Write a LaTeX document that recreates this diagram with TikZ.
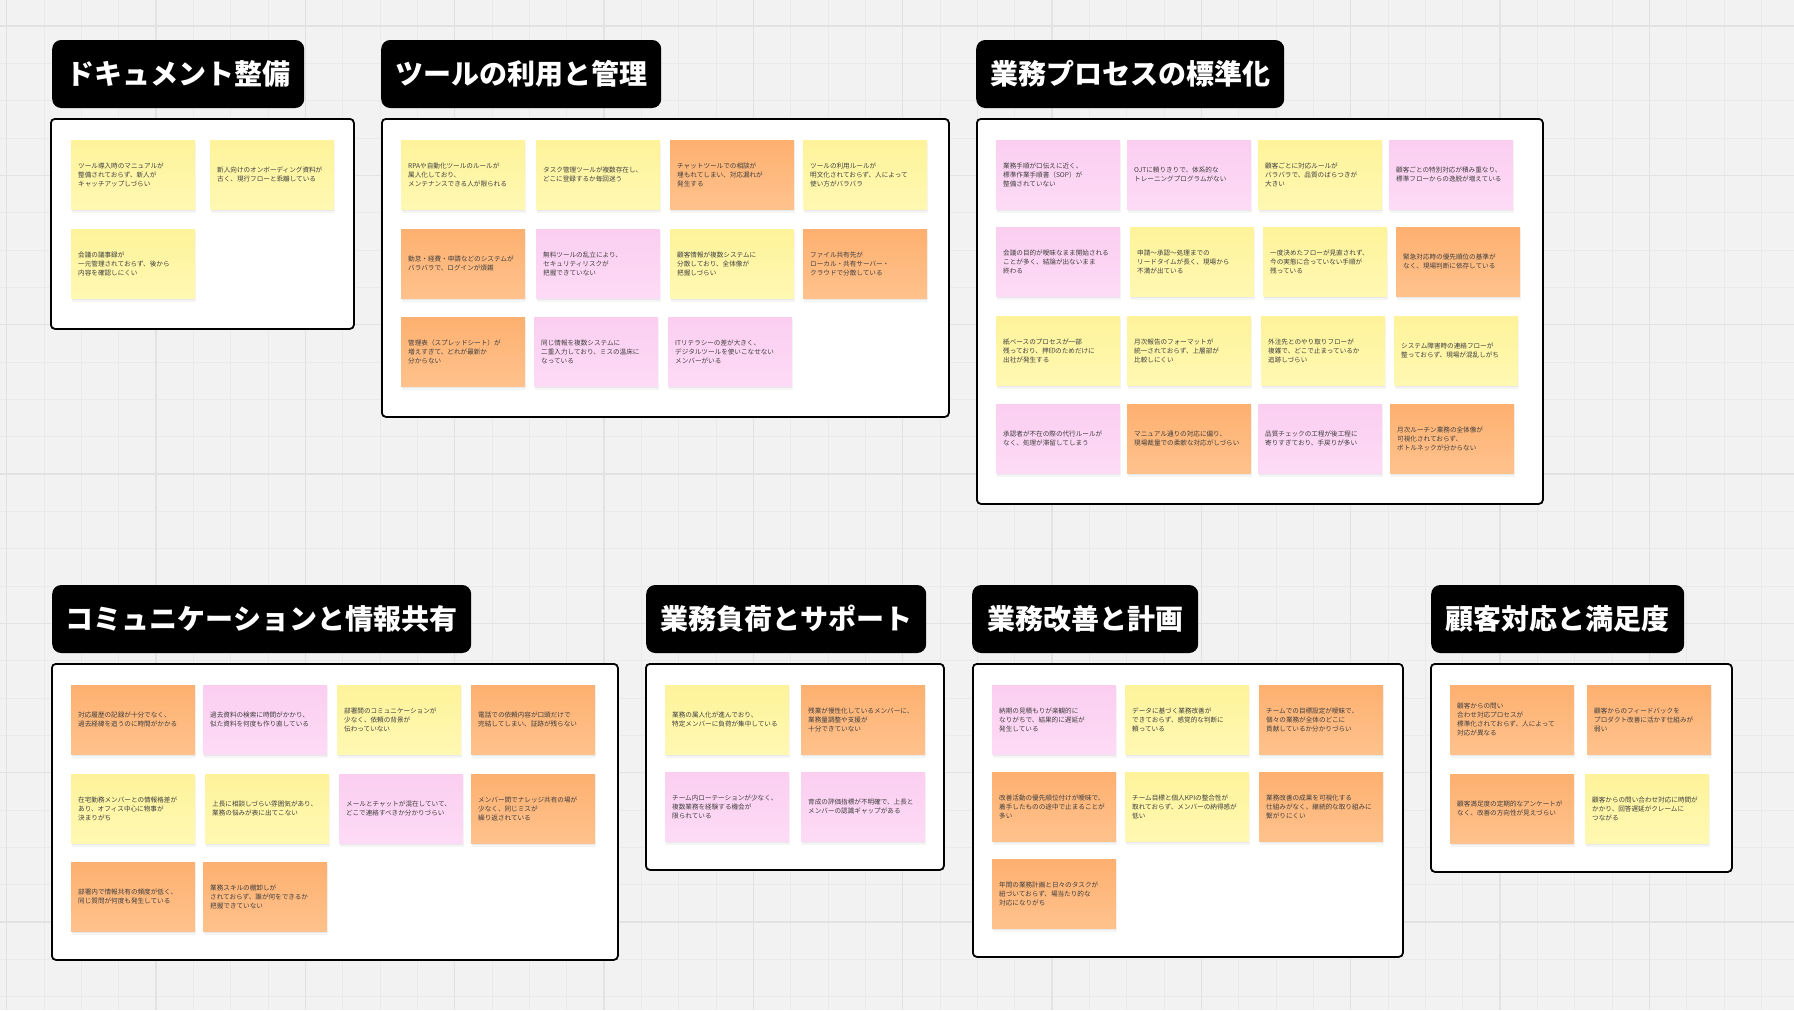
\documentclass[tikz,border=0pt]{standalone}
\usepackage{fontspec}
\newfontfamily\cjk{Noto Sans CJK JP}
\definecolor{bgc}{HTML}{F2F2F2}
\definecolor{gridminor}{HTML}{EAEAEA}
\definecolor{gridmajor}{HTML}{E2E2E2}
\definecolor{ytop}{HTML}{FEF39A}
\definecolor{ybot}{HTML}{FFF8B2}
\definecolor{otop}{HTML}{FDB070}
\definecolor{obot}{HTML}{FFC28C}
\definecolor{ptop}{HTML}{FBCEF0}
\definecolor{pbot}{HTML}{FDDBF6}
\definecolor{notetext}{HTML}{3F3F3F}
\tikzset{
  stk/.style={anchor=north west, minimum width=124pt, minimum height=69pt,
    text width=110pt, inner xsep=7pt, inner ysep=0pt, align=left,
    font=\cjk\fontsize{6.6}{9}\selectfont, text=notetext},
  sy/.style={stk, top color=ytop, bottom color=ybot},
  so/.style={stk, top color=otop, bottom color=obot},
  sp/.style={stk, top color=ptop, bottom color=pbot},
  panel/.style={draw=black, line width=1.8pt, fill=white, rounded corners=4pt,
    anchor=north west, inner sep=0pt},
  hdr/.style={fill=black, rounded corners=9pt, text=white,
    font=\cjk\bfseries\fontsize{28}{28}\selectfont, anchor=west,
    minimum height=68pt, inner sep=0pt},
}
\newcommand\stickyshadow[2]{%
  \fill[black,opacity=0.04] ({#1+0.5},{#2+2.5}) rectangle ({#1+125},{#2+73});
  \fill[black,opacity=0.05] ({#1+1},{#2+1.5}) rectangle ({#1+124},{#2+71});}
\newcommand\stnote[5]{\stickyshadow{#2}{#3}\node[#4] (#1) at (#2,#3) {#5};}
\newcommand\hdrtext[1]{\raisebox{2.5pt}{#1}}
\begin{document}
\begin{tikzpicture}[x=1pt,y=-1pt]
\useasboundingbox (0,0) rectangle (1794,1010);
\fill[bgc] (0,0) rectangle (1794,1010);
% grid
\foreach \i in {0,...,48} \draw[gridminor, line width=0.8pt] ({6.7+37.333*\i},0) -- ({6.7+37.333*\i},1010);
\foreach \j in {0,...,28} \draw[gridminor, line width=0.8pt] (0,{-11.3+37.333*\j}) -- (1794,{-11.3+37.333*\j});
\foreach \i in {0,...,12} \draw[gridmajor, line width=1.5pt] ({6.7+149.333*\i},0) -- ({6.7+149.333*\i},1010);
\foreach \j in {0,...,6} \draw[gridmajor, line width=1.5pt] (0,{26+149.333*\j}) -- (1794,{26+149.333*\j});

% headers
\node[hdr, minimum width=252pt] (hdoc) at (52,74) {\hdrtext{ドキュメント整備}};
\node[hdr, minimum width=280pt] (htool) at (381,74) {\hdrtext{ツールの利用と管理}};
\node[hdr, minimum width=308pt] (hproc) at (976,74) {\hdrtext{業務プロセスの標準化}};
\node[hdr, minimum width=419pt] (hcomm) at (52,619) {\hdrtext{コミュニケーションと情報共有}};
\node[hdr, minimum width=280pt] (hload) at (646,619) {\hdrtext{業務負荷とサポート}};
\node[hdr, minimum width=226pt] (himp) at (972,619) {\hdrtext{業務改善と計画}};
\node[hdr, minimum width=253pt] (hcust) at (1431,619) {\hdrtext{顧客対応と満足度}};

% panels
\node[panel, minimum width=303pt, minimum height=210pt] (pdoc) at (50,118) {};
\node[panel, minimum width=567pt, minimum height=298pt] (ptool) at (381,118) {};
\node[panel, minimum width=566pt, minimum height=385pt] (pproc) at (976,118) {};
\node[panel, minimum width=566pt, minimum height=296pt] (pcomm) at (51,663) {};
\node[panel, minimum width=298pt, minimum height=206pt] (pload) at (645,663) {};
\node[panel, minimum width=430pt, minimum height=293pt] (pimp) at (972,663) {};
\node[panel, minimum width=301pt, minimum height=208pt] (pcust) at (1430,663) {};

% document
\stnote{d1}{71}{140}{sy}{ツール導入時のマニュアルが\\整備されておらず、新人が\\キャッチアップしづらい}
\stnote{d2}{210}{140}{sy}{新人向けのオンボーディング資料が\\古く、現行フローと乖離している}
\stnote{d3}{71}{229}{sy}{会議の議事録が\\一元管理されておらず、後から\\内容を確認しにくい}

% tools
\stnote{t1}{401}{140}{sy}{RPAや自動化ツールのルールが\\属人化しており、\\メンテナンスできる人が限られる}
\stnote{t2}{536}{140}{sy}{タスク管理ツールが複数存在し、\\どこに登録するか毎回迷う}
\stnote{t3}{670}{140}{so}{チャットツールでの相談が\\埋もれてしまい、対応漏れが\\発生する}
\stnote{t4}{803}{140}{sy}{ツールの利用ルールが\\明文化されておらず、人によって\\使い方がバラバラ}
\stnote{t5}{401}{229}{so}{勤怠・経費・申請などのシステムが\\バラバラで、ログインが煩雑}
\stnote{t6}{536}{229}{sp}{無料ツールの乱立により、\\セキュリティリスクが\\把握できていない}
\stnote{t7}{670}{229}{sy}{顧客情報が複数システムに\\分散しており、全体像が\\把握しづらい}
\stnote{t8}{803}{229}{so}{ファイル共有先が\\ローカル・共有サーバー・\\クラウドで分散している}
\stnote{t9}{401}{317}{so}{管理表（スプレッドシート）が\\増えすぎて、どれが最新か\\分からない}
\stnote{t10}{534}{317}{sp}{同じ情報を複数システムに\\二重入力しており、ミスの温床に\\なっている}
\stnote{t11}{668}{317}{sp}{ITリテラシーの差が大きく、\\デジタルツールを使いこなせない\\メンバーがいる}

% process
\stnote{p1}{996}{140}{sp}{業務手順が口伝えに近く、\\標準作業手順書（SOP）が\\整備されていない}
\stnote{p2}{1127}{140}{sp}{OJTに頼りきりで、体系的な\\トレーニングプログラムがない}
\stnote{p3}{1258}{140}{sy}{顧客ごとに対応ルールが\\バラバラで、品質のばらつきが\\大きい}
\stnote{p4}{1389}{140}{sp}{顧客ごとの特別対応が積み重なり、\\標準フローからの逸脱が増えている}
\stnote{p5}{996}{227}{sp}{会議の目的が曖昧なまま開始される\\ことが多く、結論が出ないまま\\終わる}
\stnote{p6}{1130}{227}{sy}{申請〜承認〜処理までの\\リードタイムが長く、現場から\\不満が出ている}
\stnote{p7}{1263}{227}{sy}{一度決めたフローが見直されず、\\今の実態に合っていない手順が\\残っている}
\stnote{p8}{1396}{227}{so}{緊急対応時の優先順位の基準が\\なく、現場判断に依存している}
\stnote{p9}{996}{316}{sy}{紙ベースのプロセスが一部\\残っており、押印のためだけに\\出社が発生する}
\stnote{p10}{1127}{316}{sy}{月次報告のフォーマットが\\統一されておらず、上層部が\\比較しにくい}
\stnote{p11}{1261}{316}{sy}{外注先とのやり取りフローが\\複雑で、どこで止まっているか\\追跡しづらい}
\stnote{p12}{1394}{316}{sy}{システム障害時の連絡フローが\\整っておらず、現場が混乱しがち}
\stnote{p13}{996}{404}{sp}{承認者が不在の際の代行ルールが\\なく、処理が滞留してしまう}
\stnote{p14}{1127}{404}{so}{マニュアル通りの対応に偏り、\\現場裁量での柔軟な対応がしづらい}
\stnote{p15}{1258}{404}{sp}{品質チェックの工程が後工程に\\寄りすぎており、手戻りが多い}
\stnote{p16}{1390}{404}{so}{月次ルーチン業務の全体像が\\可視化されておらず、\\ボトルネックが分からない}

% communication
\stnote{c1}{71}{685}{so}{対応履歴の記録が十分でなく、\\過去経緯を追うのに時間がかかる}
\stnote{c2}{203}{685}{sp}{過去資料の検索に時間がかかり、\\似た資料を何度も作り直している}
\stnote{c3}{337}{685}{sy}{部署間のコミュニケーションが\\少なく、依頼の背景が\\伝わっていない}
\stnote{c4}{471}{685}{so}{電話での依頼内容が口頭だけで\\完結してしまい、証跡が残らない}
\stnote{c5}{71}{774}{sy}{在宅勤務メンバーとの情報格差が\\あり、オフィス中心に物事が\\決まりがち}
\stnote{c6}{205}{774}{sy}{上長に相談しづらい雰囲気があり、\\業務の悩みが表に出てこない}
\stnote{c7}{339}{774}{sp}{メールとチャットが混在していて、\\どこで連絡すべきか分かりづらい}
\stnote{c8}{471}{774}{so}{メンバー間でナレッジ共有の場が\\少なく、同じミスが\\繰り返されている}
\stnote{c9}{71}{862}{so}{部署内で情報共有の頻度が低く、\\同じ質問が何度も発生している}
\stnote{c10}{203}{862}{so}{業務スキルの棚卸しが\\されておらず、誰が何をできるか\\把握できていない}

% load
\stnote{l1}{665}{685}{sy}{業務の属人化が進んでおり、\\特定メンバーに負荷が集中している}
\stnote{l2}{801}{685}{so}{残業が慢性化しているメンバーに、\\業務量調整や支援が\\十分できていない}
\stnote{l3}{665}{772}{sp}{チーム内ローテーションが少なく、\\複数業務を経験する機会が\\限られている}
\stnote{l4}{801}{772}{sp}{育成の評価指標が不明確で、上長と\\メンバーの認識ギャップがある}

% improvement
\stnote{i1}{992}{685}{sp}{納期の見積もりが楽観的に\\なりがちで、結果的に遅延が\\発生している}
\stnote{i2}{1125}{685}{sy}{データに基づく業務改善が\\できておらず、感覚的な判断に\\頼っている}
\stnote{i3}{1259}{685}{so}{チームでの目標設定が曖昧で、\\個々の業務が全体のどこに\\貢献しているか分かりづらい}
\stnote{i4}{992}{772}{so}{改善活動の優先順位付けが曖昧で、\\着手したものの途中で止まることが\\多い}
\stnote{i5}{1125}{772}{sy}{チーム目標と個人KPIの整合性が\\取れておらず、メンバーの納得感が\\低い}
\stnote{i6}{1259}{772}{so}{業務改善の成果を可視化する\\仕組みがなく、継続的な取り組みに\\繋がりにくい}
\stnote{i7}{992}{859}{so}{年間の業務計画と日々のタスクが\\紐づいておらず、場当たり的な\\対応になりがち}

% customer
\stnote{k1}{1450}{685}{so}{顧客からの問い\\合わせ対応プロセスが\\標準化されておらず、人によって\\対応が異なる}
\stnote{k2}{1587}{685}{so}{顧客からのフィードバックを\\プロダクト改善に活かす仕組みが\\弱い}
\stnote{k3}{1450}{774}{so}{顧客満足度の定期的なアンケートが\\なく、改善の方向性が見えづらい}
\stnote{k4}{1585}{774}{sy}{顧客からの問い合わせ対応に時間が\\かかり、回答遅延がクレームに\\つながる}
\end{tikzpicture}
\end{document}
